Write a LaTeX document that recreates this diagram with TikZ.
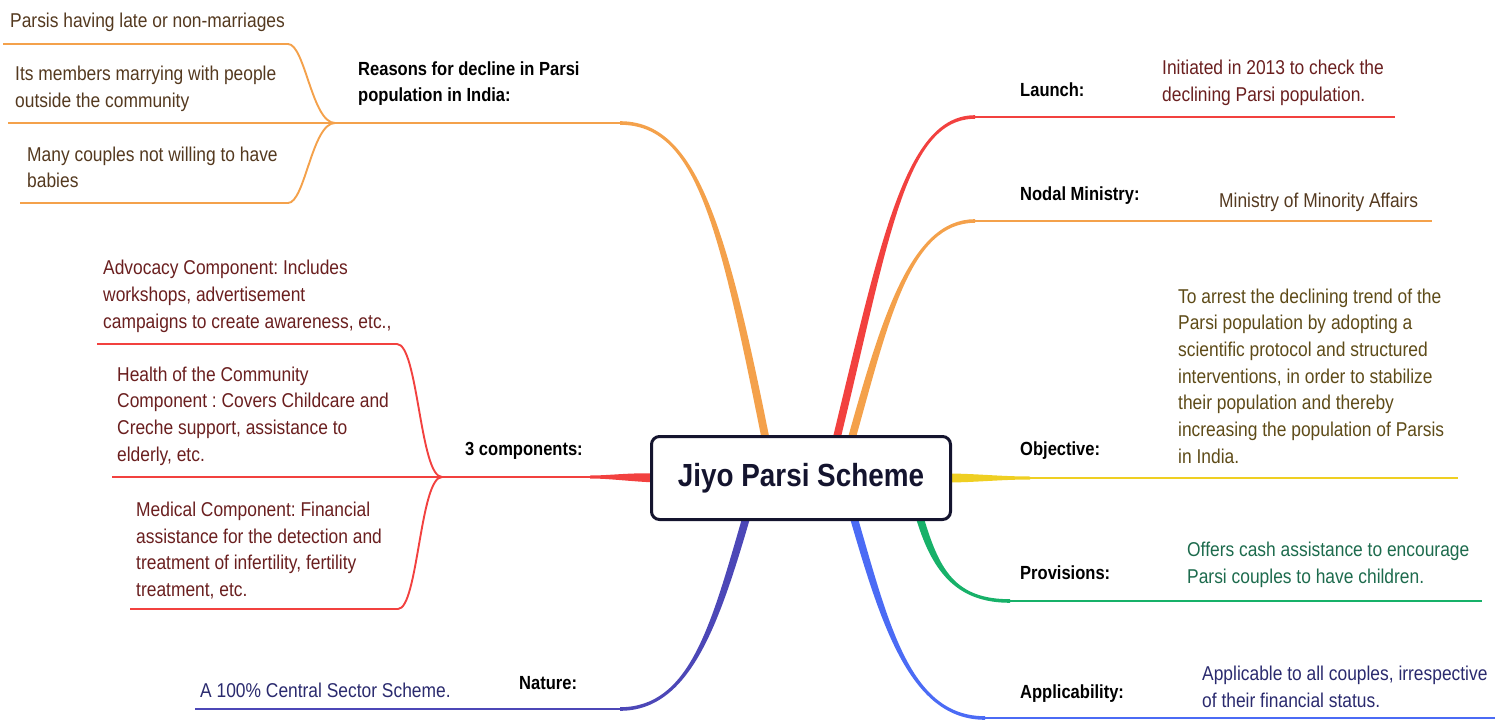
\documentclass[tikz,border=0pt]{standalone}
\usepackage{fontspec}
\setmainfont{Liberation Sans}[FakeStretch=0.87]
\usetikzlibrary{calc,backgrounds}
\frenchspacing

\definecolor{mmorange}{HTML}{F4A14B}
\definecolor{mmred}{HTML}{F2413F}
\definecolor{mmyellow}{HTML}{EFCF22}
\definecolor{mmgreen}{HTML}{17B169}
\definecolor{mmblue}{HTML}{4B6BF5}
\definecolor{mmindigo}{HTML}{4C47B7}
\definecolor{hubline}{HTML}{14142E}
\definecolor{txtbrown}{HTML}{54391F}
\definecolor{txtmaroon}{HTML}{6A1F1F}
\definecolor{txtolive}{HTML}{5E4B18}
\definecolor{txtgreen}{HTML}{1D6B4D}
\definecolor{txtnavy}{HTML}{2A2A6E}

\newcommand{\ribbon}[7]{%
	\fill[#1] ($#2+#6$) .. controls ($#3+#6$) and ($#4+#7$) .. ($#5+#7$)
		-- ($#5-#7$) .. controls ($#4-#7$) and ($#3-#6$) .. ($#2-#6$) -- cycle;}

\begin{document}
\begin{tikzpicture}[x=1pt,y=-1pt,
		branchtag/.style={font=\fontsize{19}{26}\selectfont\bfseries, text=black, inner sep=0pt, anchor=west, align=left},
		leaftext/.style={font=\fontsize{20}{26.7}\selectfont, inner sep=0pt, anchor=west, align=left},
		limb/.style={line width=2.6pt},
		twig/.style={line width=1.9pt}]
				\useasboundingbox (0,0) rectangle (1508,720);
				
				\node[draw=hubline, line width=3pt, rounded corners=8pt, fill=white, minimum width=299pt, minimum height=83pt, inner sep=0pt, font=\fontsize{32}{36}\selectfont\bfseries, text=hubline] (hub) at (801,478) {Jiyo Parsi Scheme};
				
				\node[branchtag] (reasons) at (358,84) {Reasons for decline in Parsi\\population in India:};
				\node[leaftext, text=txtbrown] (why-late) at (10,22.5) {Parsis having late or non-marriages};
				\node[leaftext, text=txtbrown] (why-outside) at (15,88.5) {Its members marrying with people\\outside the community};
				\node[leaftext, text=txtbrown] (why-babies) at (27,167.5) {Many couples not willing to have\\babies};
				
				\node[branchtag] (comps) at (465,451) {3 components:};
				\node[leaftext, text=txtmaroon] (advocacy) at (103,296.5) {Advocacy Component: Includes\\workshops, advertisement\\campaigns to create awareness, etc.,};
				\node[leaftext, text=txtmaroon] (health) at (117,416) {Health of the Community\\Component : Covers Childcare and\\Creche support, assistance to\\elderly, etc.};
				\node[leaftext, text=txtmaroon] (medical) at (136,550.5) {Medical Component: Financial\\assistance for the detection and\\treatment of infertility, fertility\\treatment, etc.};
				
				\node[branchtag] (nature) at (519,683) {Nature:};
				\node[leaftext, text=txtnavy] (nature-txt) at (200,690.5) {A 100\% Central Sector Scheme.};
				
				\node[branchtag] (launch) at (1020,90) {Launch:};
				\node[leaftext, text=txtmaroon] (launch-txt) at (1162,82.5) {Initiated in 2013 to check the\\declining Parsi population.};
				\node[branchtag] (nodal) at (1020,195.5) {Nodal Ministry:};
				\node[leaftext, text=txtbrown] (nodal-txt) at (1219,202.5) {Ministry of Minority Affairs};
				\node[branchtag] (objective) at (1020,451) {Objective:};
				\node[leaftext, text=txtolive] (objective-txt) at (1178,376) {To arrest the declining trend of the\\Parsi population by adopting a\\scientific protocol and structured\\interventions, in order to stabilize\\their population and thereby\\increasing the population of Parsis\\in India.};
				\node[branchtag] (provisions) at (1020,573) {Provisions:};
				\node[leaftext, text=txtgreen] (provisions-txt) at (1187,565) {Offers cash assistance to encourage\\Parsi couples to have children.};
				\node[branchtag] (applic) at (1020,694) {Applicability:};
				\node[leaftext, text=txtnavy] (applic-txt) at (1202,687) {Applicable to all couples, irrespective\\of their financial status.};
				
				\coordinate (r-root) at ([xshift=-35pt,yshift=-6pt]hub.north);
				\coordinate (r-bend) at (620,123);
				\coordinate (r-fork) at (335,123);
				\coordinate (late-knee) at (288,44);
				\coordinate (late-end) at (3,44);
				\coordinate (outside-end) at (8,123);
				\coordinate (babies-knee) at (288,203);
				\coordinate (babies-end) at (20,203);
				
				\coordinate (c-root) at ([xshift=6pt]hub.west);
				\coordinate (c-bend) at (590,477);
				\coordinate (c-fork) at (442,477);
				\coordinate (advocacy-knee) at (397,344);
				\coordinate (advocacy-end) at (97,344);
				\coordinate (health-end) at (112,477);
				\coordinate (medical-knee) at (398,609);
				\coordinate (medical-end) at (130,609);
				
				\coordinate (n-root) at ([xshift=-54pt,yshift=6pt]hub.south);
				\coordinate (n-bend) at (620,709);
				\coordinate (n-end) at (195,709);
				
				\coordinate (l-root) at ([xshift=35pt,yshift=-6pt]hub.north);
				\coordinate (l-bend) at (975,117);
				\coordinate (l-end) at (1395,117);
				\coordinate (m-root) at ([xshift=50pt,yshift=-6pt]hub.north);
				\coordinate (m-bend) at (975,221);
				\coordinate (m-end) at (1432,221);
				\coordinate (o-root) at ([xshift=-6pt]hub.east);
				\coordinate (o-bend) at (1030,478);
				\coordinate (o-end) at (1458,478);
				\coordinate (p-root) at ([xshift=118pt,yshift=6pt]hub.south);
				\coordinate (p-bend) at (1010,601);
				\coordinate (p-end) at (1482,601);
				\coordinate (a-root) at ([xshift=52pt,yshift=6pt]hub.south);
				\coordinate (a-bend) at (985,718);
				\coordinate (a-end) at (1495,718);
				
				\begin{pgfonlayer}{background}
				\ribbon{mmorange}{(r-root)}{(722,220)}{(695,123)}{(r-bend)}{(4,0)}{(0,-1.8)}
				\draw[limb, mmorange] (r-bend) -- (r-fork);
				\draw[twig, mmorange] (r-fork) .. controls (312,123) and (305,44) .. (late-knee) -- (late-end);
				\draw[twig, mmorange] (r-fork) -- (outside-end);
				\draw[twig, mmorange] (r-fork) .. controls (312,123) and (305,203) .. (babies-knee) -- (babies-end);
				
				\ribbon{mmred}{(c-root)}{(630,477)}{(610,477)}{(c-bend)}{(0,4.5)}{(0,1.5)}
				\draw[limb, mmred] (c-bend) -- (c-fork);
				\draw[twig, mmred] (c-fork) .. controls (420,477) and (418,344) .. (advocacy-knee) -- (advocacy-end);
				\draw[twig, mmred] (c-fork) -- (health-end);
				\draw[twig, mmred] (c-fork) .. controls (420,477) and (418,609) .. (medical-knee) -- (medical-end);
				
				\ribbon{mmindigo}{(n-root)}{(715,625)}{(690,709)}{(n-bend)}{(4,0)}{(0,1.8)}
				\draw[limb, mmindigo] (n-bend) -- (n-end);
				
				\ribbon{mmred}{(l-root)}{(885,240)}{(905,117)}{(l-bend)}{(4,0)}{(0,1.8)}
				\draw[limb, mmred] (l-bend) -- (l-end);
				\ribbon{mmorange}{(m-root)}{(885,320)}{(910,221)}{(m-bend)}{(4,0)}{(0,1.8)}
				\draw[limb, mmorange] (m-bend) -- (m-end);
				\ribbon{mmyellow}{(o-root)}{(975,478)}{(1000,478)}{(o-bend)}{(0,4.5)}{(0,1.5)}
				\draw[limb, mmyellow] (o-bend) -- (o-end);
				\ribbon{mmgreen}{(p-root)}{(935,570)}{(955,601)}{(p-bend)}{(4,0)}{(0,-1.8)}
				\draw[limb, mmgreen] (p-bend) -- (p-end);
				\ribbon{mmblue}{(a-root)}{(885,625)}{(910,718)}{(a-bend)}{(4,0)}{(0,-1.8)}
				\draw[limb, mmblue] (a-bend) -- (a-end);
				\end{pgfonlayer}
			\end{tikzpicture}
\end{document}
